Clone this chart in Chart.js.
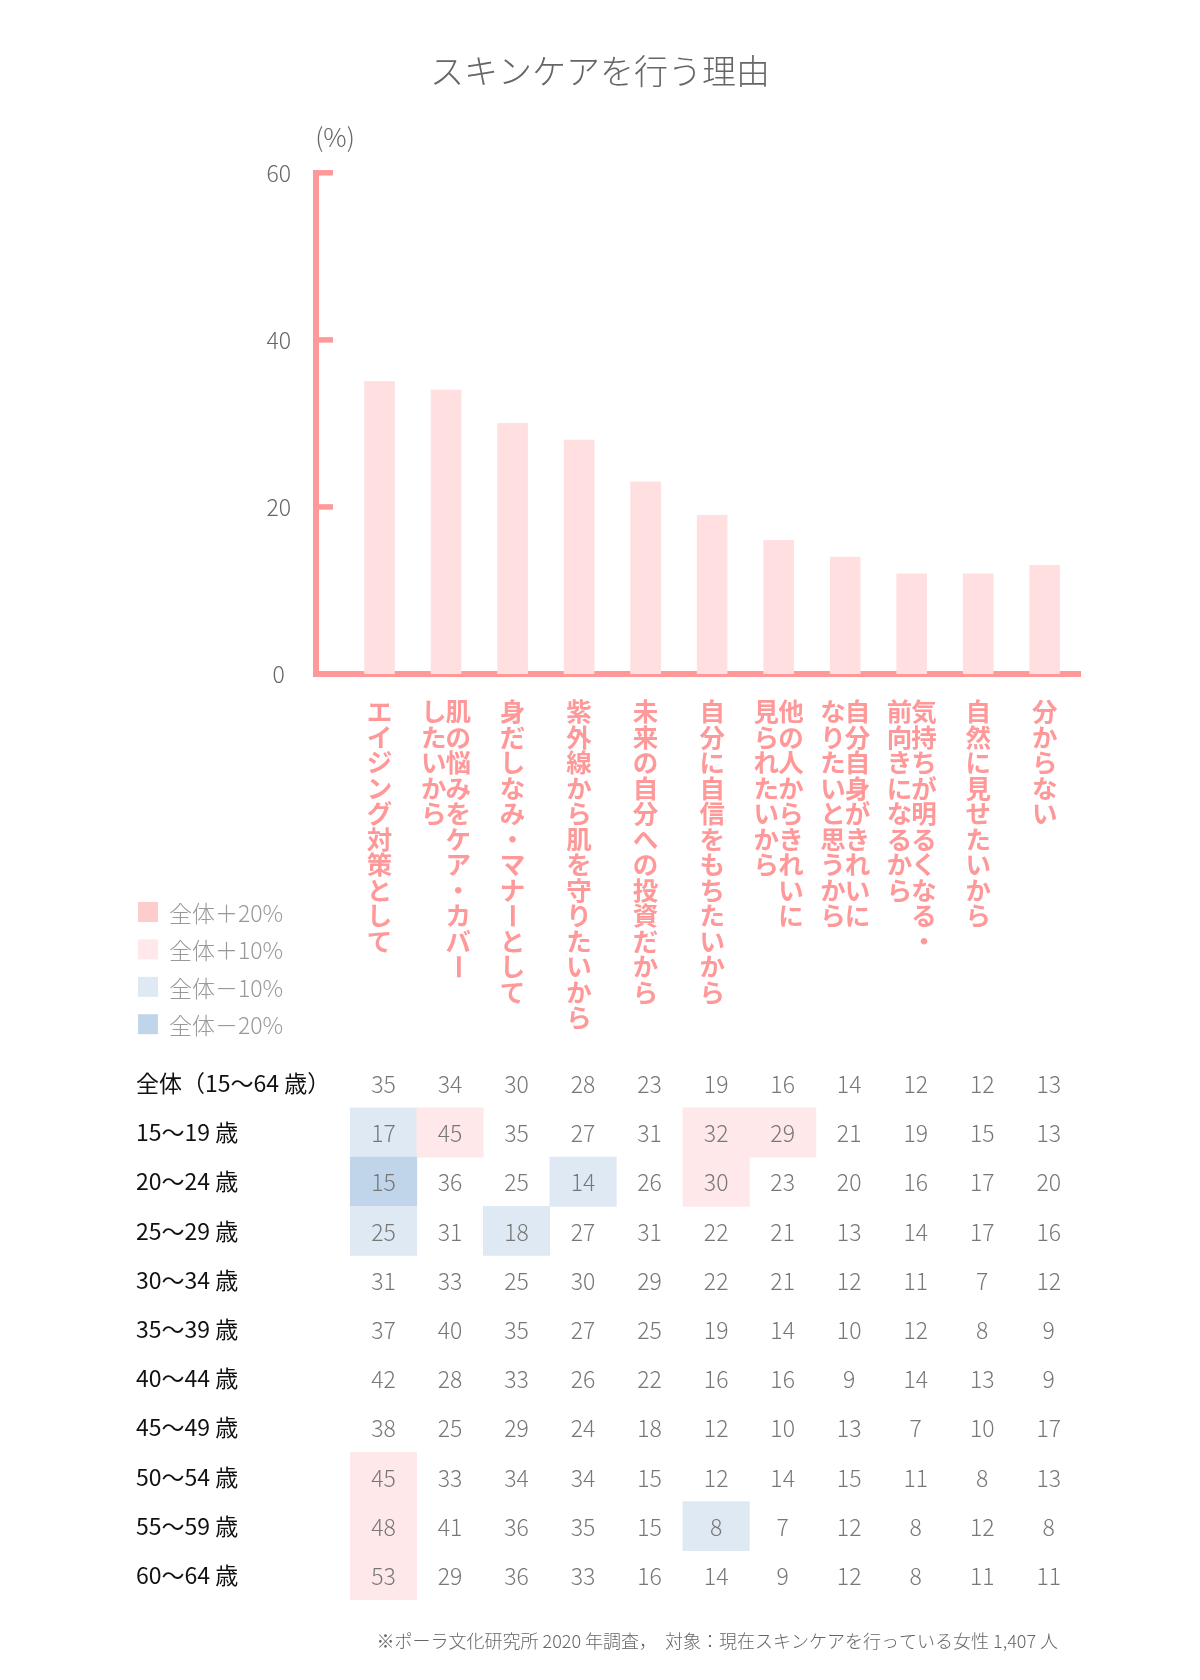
<!DOCTYPE html>
<html>
<head>
<meta charset="utf-8">
<script src="https://cdn.jsdelivr.net/npm/chart.js@4/dist/chart.umd.min.js"></script>
<style>
html, body { margin: 0; padding: 0; background: #ffffff; }
#wrap { position: relative; width: 1200px; height: 1680px; background: #ffffff; }
#barChart { position: absolute; left: 0; top: 0; width: 1200px; height: 1040px; }
#tableChart { position: absolute; left: 0; top: 1040px; width: 1200px; height: 640px; }
</style>
</head>
<body>
<div id="wrap">
  <canvas id="barChart" width="1200" height="1040"></canvas>
  <canvas id="tableChart" width="1200" height="640"></canvas>
</div>
<script>
// ---------------- data ----------------
const chartTitle = 'スキンケアを行う理由';
const unitLabel = '(%)';
const categories = [
  ['エイジング対策として'],
  ['肌の悩みをケア・カバー', 'したいから'],
  ['身だしなみ・マナーとして'],
  ['紫外線から肌を守りたいから'],
  ['未来の自分への投資だから'],
  ['自分に自信をもちたいから'],
  ['他の人からきれいに', '見られたいから'],
  ['自分自身がきれいに', 'なりたいと思うから'],
  ['気持ちが明るくなる・', '前向きになるから'],
  ['自然に見せたいから'],
  ['分からない']
];
const overall   = [35, 34, 30, 28, 23, 19, 16, 14, 12, 12, 13];
const age15to19 = [17, 45, 35, 27, 31, 32, 29, 21, 19, 15, 13];
const age20to24 = [15, 36, 25, 14, 26, 30, 23, 20, 16, 17, 20];
const age25to29 = [25, 31, 18, 27, 31, 22, 21, 13, 14, 17, 16];
const age30to34 = [31, 33, 25, 30, 29, 22, 21, 12, 11, 7, 12];
const age35to39 = [37, 40, 35, 27, 25, 19, 14, 10, 12, 8, 9];
const age40to44 = [42, 28, 33, 26, 22, 16, 16, 9, 14, 13, 9];
const age45to49 = [38, 25, 29, 24, 18, 12, 10, 13, 7, 10, 17];
const age50to54 = [45, 33, 34, 34, 15, 12, 14, 15, 11, 8, 13];
const age55to59 = [48, 41, 36, 35, 15, 8, 7, 12, 8, 12, 8];
const age60to64 = [53, 29, 36, 33, 16, 14, 9, 12, 8, 11, 11];
const rowLabels = ['全体（15〜64 歳）', '15〜19 歳', '20〜24 歳', '25〜29 歳', '30〜34 歳', '35〜39 歳',
                   '40〜44 歳', '45〜49 歳', '50〜54 歳', '55〜59 歳', '60〜64 歳'];
const tableRows = [overall, age15to19, age20to24, age25to29, age30to34, age35to39,
                   age40to44, age45to49, age50to54, age55to59, age60to64];
const yTickStep = 20;
const yMax = 60;
const legendLabels = ['全体＋20%', '全体＋10%', '全体－10%', '全体－20%'];
const footnote = '※ポーラ文化研究所 2020 年調査，  対象：現在スキンケアを行っている女性 1,407 人';

// ---------------- styles ----------------
const FONT = "'Noto Sans CJK JP', 'Noto Sans', sans-serif";
const AXIS = '#ff9999';
const BAR = '#ffdfe0';
const LEGEND_COLORS = ['#ffcccc', '#ffe8ea', '#dfe9f4', '#c1d5ea'];
Chart.defaults.font.family = FONT;

function cellColor(v, base) {
  const d = v - base;
  if (d >= 20) return LEGEND_COLORS[0];
  if (d >= 10) return LEGEND_COLORS[1];
  if (d <= -20) return LEGEND_COLORS[3];
  if (d <= -10) return LEGEND_COLORS[2];
  return 'rgba(0,0,0,0)';
}

// ---------------- bar chart ----------------
const barDecor = {
  id: 'barDecor',
  afterDraw(chart) {
    const ctx = chart.ctx;
    const xs = chart.scales.x, ys = chart.scales.y;
    ctx.save();
    // inner tick marks
    ctx.strokeStyle = AXIS;
    ctx.lineWidth = 5.5;
    ctx.lineCap = 'butt';
    ys.ticks.forEach(t => {
      if (t.value <= 0) return;
      const y = ys.getPixelForValue(t.value);
      ctx.beginPath();
      ctx.moveTo(ys.right - 2, y);
      ctx.lineTo(ys.right + 17, y);
      ctx.stroke();
    });
    // unit label
    ctx.fillStyle = '#666';
    ctx.font = '300 26px ' + FONT;
    ctx.textAlign = 'center';
    ctx.textBaseline = 'middle';
    ctx.fillText(unitLabel, ys.right + 19, ys.top - 36);
    // vertical category labels
    const size = 25.5, colGap = 24.6;
    const top = chart.chartArea.bottom + 25;
    ctx.textBaseline = 'middle';
    ctx.fillStyle = AXIS;
    ctx.font = '700 ' + size + 'px ' + FONT;
    categories.forEach((cols, i) => {
      const cx = xs.getPixelForValue(i);
      const n = cols.length;
      cols.forEach((col, j) => {
        const x = cx + ((n - 1) / 2 - j) * colGap;
        Array.from(col).forEach((ch, k) => {
          const y = top + (k + 0.5) * size;
          if (ch === 'ー') {
            ctx.save();
            ctx.translate(x, y);
            ctx.rotate(Math.PI / 2);
            ctx.fillText(ch, 0, 0);
            ctx.restore();
          } else {
            ctx.fillText(ch, x, y);
          }
        });
      });
    });
    // legend
    ctx.font = '300 23px ' + FONT;
    ctx.textAlign = 'left';
    legendLabels.forEach((lab, k) => {
      const cy = 912 + k * 37.4;
      ctx.fillStyle = LEGEND_COLORS[k];
      ctx.fillRect(138, cy - 10, 20, 20);
      ctx.fillStyle = '#999';
      ctx.fillText(lab, 169, cy + 1);
    });
    ctx.restore();
  }
};

new Chart(document.getElementById('barChart'), {
  type: 'bar',
  data: {
    datasets: [{
      label: chartTitle,
      data: overall.map((v, i) => ({ x: i, y: v })),
      backgroundColor: BAR,
      barThickness: 30
    }]
  },
  options: {
    responsive: false,
    animation: false,
    devicePixelRatio: 1,
    layout: { padding: { left: 120, right: 120, top: 0, bottom: 366 } },
    plugins: {
      legend: { display: false },
      tooltip: { enabled: false },
      title: {
        display: true,
        text: chartTitle,
        color: '#666',
        font: { size: 34, weight: '300', family: FONT },
        padding: { top: 51, bottom: 81 }
      }
    },
    scales: {
      x: {
        type: 'linear',
        min: -0.955,
        max: 10.53,
        offset: false,
        z: 1,
        ticks: { display: false },
        grid: { display: false, drawTicks: false },
        border: { display: true, color: AXIS, width: 6 },
        afterFit: s => { s.height = 0; }
      },
      y: {
        min: 0,
        max: yMax,
        z: 1,
        ticks: {
          stepSize: yTickStep,
          padding: 25,
          crossAlign: 'center',
          color: '#666',
          font: { size: 23, weight: '300', family: FONT }
        },
        grid: { display: false, drawTicks: false },
        border: { display: true, color: AXIS, width: 6 },
        afterFit: s => { s.width = 196; }
      }
    }
  },
  plugins: [barDecor]
});

// ---------------- table chart ----------------
const cellData = [];
const cellColors = [];
tableRows.forEach((vals, r) => {
  vals.forEach((v, c) => {
    cellData.push({ x: c, y: [r - 0.5, r + 0.5], v: v });
    cellColors.push(cellColor(v, overall[c]));
  });
});

const tableDecor = {
  id: 'tableDecor',
  afterDatasetsDraw(chart) {
    const ctx = chart.ctx;
    const xs = chart.scales.x, ys = chart.scales.y;
    ctx.save();
    ctx.fillStyle = '#777';
    ctx.font = '300 23px ' + FONT;
    ctx.textAlign = 'center';
    ctx.textBaseline = 'middle';
    tableRows.forEach((vals, r) => {
      vals.forEach((v, c) => {
        ctx.fillText(String(v), xs.getPixelForValue(c), ys.getPixelForValue(r) + 1);
      });
    });
    ctx.fillStyle = '#666';
    ctx.font = '300 18px ' + FONT;
    ctx.textAlign = 'right';
    ctx.fillText(footnote, 1058, 601);
    ctx.restore();
  }
};

new Chart(document.getElementById('tableChart'), {
  type: 'bar',
  data: {
    datasets: [{
      label: 'table',
      data: cellData,
      backgroundColor: cellColors,
      barPercentage: 1,
      categoryPercentage: 1,
      borderWidth: 0
    }]
  },
  options: {
    responsive: false,
    animation: false,
    devicePixelRatio: 1,
    layout: { padding: { left: 136, right: 120, top: 18.7, bottom: 80.1 } },
    plugins: { legend: { display: false }, tooltip: { enabled: false }, title: { display: false } },
    scales: {
      x: { type: 'linear', min: -1.015, max: 10.47, offset: false, display: false },
      y: { type: 'linear', min: -0.5, max: 10.5, reverse: true, display: false },
      rows: {
        type: 'category',
        labels: rowLabels,
        position: 'left',
        offset: true,
        grid: { display: false, drawTicks: false },
        border: { display: false },
        ticks: { crossAlign: 'far', color: '#111', padding: 0, autoSkip: false, font: { size: 23, weight: '400', family: FONT } },
        afterFit: s => { s.width = 180; }
      }
    }
  },
  plugins: [tableDecor]
});
</script>
</body>
</html>
